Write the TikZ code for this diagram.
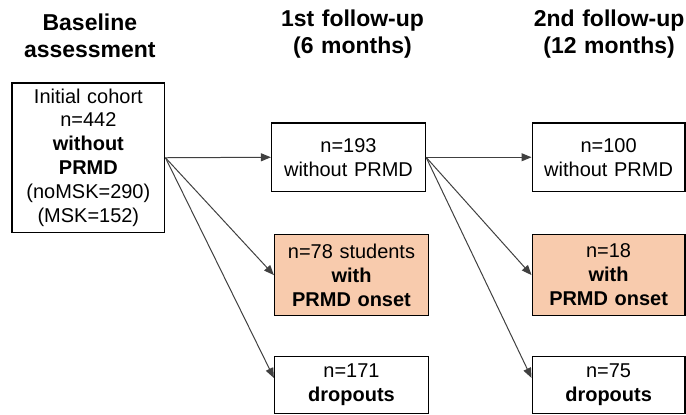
\documentclass[tikz,border=0pt]{standalone}
\usepackage{fontspec}
\setmainfont{Liberation Sans}
\usetikzlibrary{arrows.meta}
\definecolor{onsetfill}{HTML}{F8CBAD}
\definecolor{linegray}{HTML}{404040}

\begin{document}
\begin{tikzpicture}[x=0.5pt, y=-0.5pt, text centered, font=\fontsize{10}{12}\selectfont]
    \tikzstyle{box} = [rectangle, draw, line width=0.7pt, inner sep=0pt, text width=74pt]
    \tikzstyle{onset} = [box, fill=onsetfill]
    \tikzstyle{head} = [text width=95pt, font=\fontsize{11.5}{13.5}\selectfont\bfseries]
    \tikzstyle{link} = [draw=linegray, line width=0.5pt, -{Triangle[length=5pt, width=4pt]}]

    \useasboundingbox (0,0) rectangle (687,415);

    \node [head] (h0) at (90, 36) {Baseline \\ assessment};
    \node [head] (h1) at (353, 34) {1st follow-up \\ (6 months)};
    \node [head] (h2) at (610, 34) {2nd follow-up \\ (12 months)};

    \node [box, minimum width=76.5pt, minimum height=75pt] (a) at (88.5, 158)
        {Initial cohort \\ n=442 \\ \textbf{without} \\ \textbf{PRMD} \\ (noMSK=290) \\ (MSK=152)};

    \node [box, minimum width=77pt, minimum height=34.5pt] (b) at (349, 157.5) {n=193 \\ without PRMD};
    \node [onset, minimum width=77pt, minimum height=40.5pt] (c) at (352, 275.5) {n=78 students \\ \textbf{with} \\ \textbf{PRMD onset}};
    \node [box, minimum width=77pt, minimum height=28.5pt] (d) at (352, 385.5) {n=171 \\ \textbf{dropouts}};

    \node [box, minimum width=76.5pt, minimum height=34.5pt] (e) at (609.5, 157.5) {n=100 \\ without PRMD};
    \node [onset, minimum width=76.5pt, minimum height=40.5pt] (f) at (609.5, 275.5) {n=18 \\ \textbf{with} \\ \textbf{PRMD onset}};
    \node [box, minimum width=76.5pt, minimum height=28.5pt] (g) at (609.5, 385.5) {n=75 \\ \textbf{dropouts}};

    \draw [link] (a.east) -- (b.west);
    \draw [link] (a.east) -- (c.west);
    \draw [link] (a.east) -- ([yshift=3.5pt]d.west);

    \draw [link] (b.east) -- (e.west);
    \draw [link] (b.east) -- (f.west);
    \draw [link] (b.east) -- ([yshift=3.5pt]g.west);
\end{tikzpicture}
\end{document}
